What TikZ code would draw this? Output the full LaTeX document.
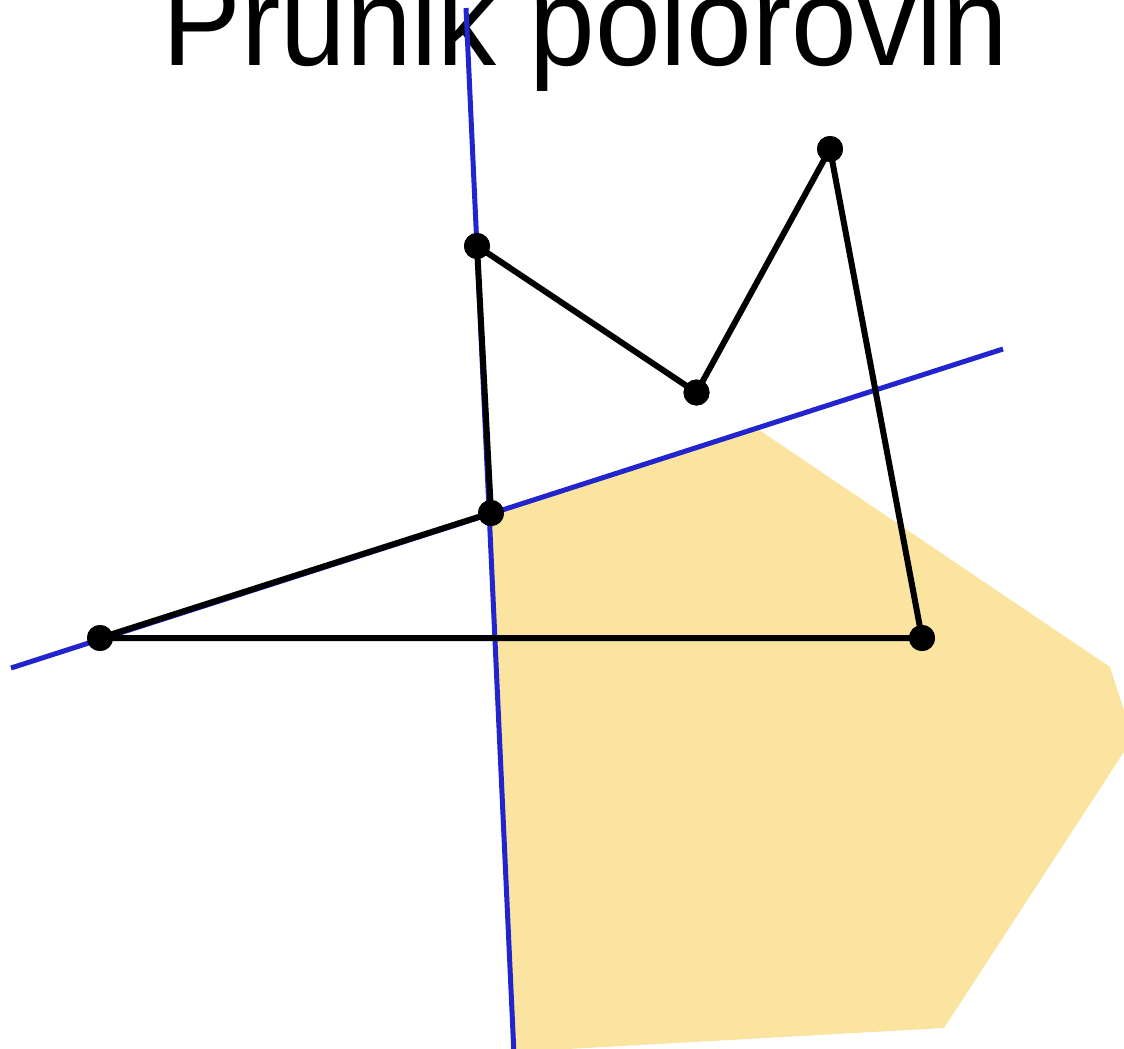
\documentclass[tikz,border=0pt]{standalone}
\usepackage{fontspec}
\setmainfont{Liberation Sans}
\definecolor{lineblue}{RGB}{34,36,206}
\definecolor{halfyellow}{RGB}{251,227,160}
\tikzset{
  dot/.style={circle,fill=black,inner sep=0pt,minimum size=26pt},
  edge/.style={draw=black,line width=6pt,line join=round},
  halfline/.style={draw=lineblue,line width=5pt},
  region/.style={fill=halfyellow,draw=none},
  title/.style={font=\fontsize{118}{130}\selectfont,inner sep=0pt,anchor=base}
}
\begin{document}
\begin{tikzpicture}[x=1pt,y=-1pt]
\useasboundingbox (0,0) rectangle (1124,1049);
\node[title] (T) at (585.5,66) {\scalebox{1}[1.06]{Průnik polorovin}};
% intersection region
\coordinate (R1) at (489,514);
\coordinate (R2) at (757,428.5);
\coordinate (R3) at (1110,667);
\coordinate (R4) at (1133,738);
\coordinate (R5) at (944,1028);
\coordinate (R6) at (514,1052);
\path[region] (R1) -- (R2) -- (R3) -- (R4) -- (R5) -- (R6) -- cycle;
% half-plane boundaries
\coordinate (L1a) at (466,8);
\coordinate (L1b) at (514,1055);
\coordinate (L2a) at (11,668);
\coordinate (L2b) at (1003,349);
\draw[halfline] (L1a) -- (L1b);
\draw[halfline] (L2a) -- (L2b);
% polygon vertices
\node[dot] (A) at (100,638) {};
\node[dot] (B) at (491,513) {};
\node[dot] (C) at (922,638) {};
\node[dot] (D) at (830,149) {};
\node[dot] (E) at (696.5,392.5) {};
\node[dot] (F) at (477,246) {};
\draw[edge] (A.center) -- (C.center) -- (D.center) -- (E.center) -- (F.center) -- (B.center) -- (A.center);
\node[dot] at (A) {};
\node[dot] at (B) {};
\node[dot] at (C) {};
\node[dot] at (D) {};
\node[dot] at (E) {};
\node[dot] at (F) {};
\end{tikzpicture}
\end{document}
